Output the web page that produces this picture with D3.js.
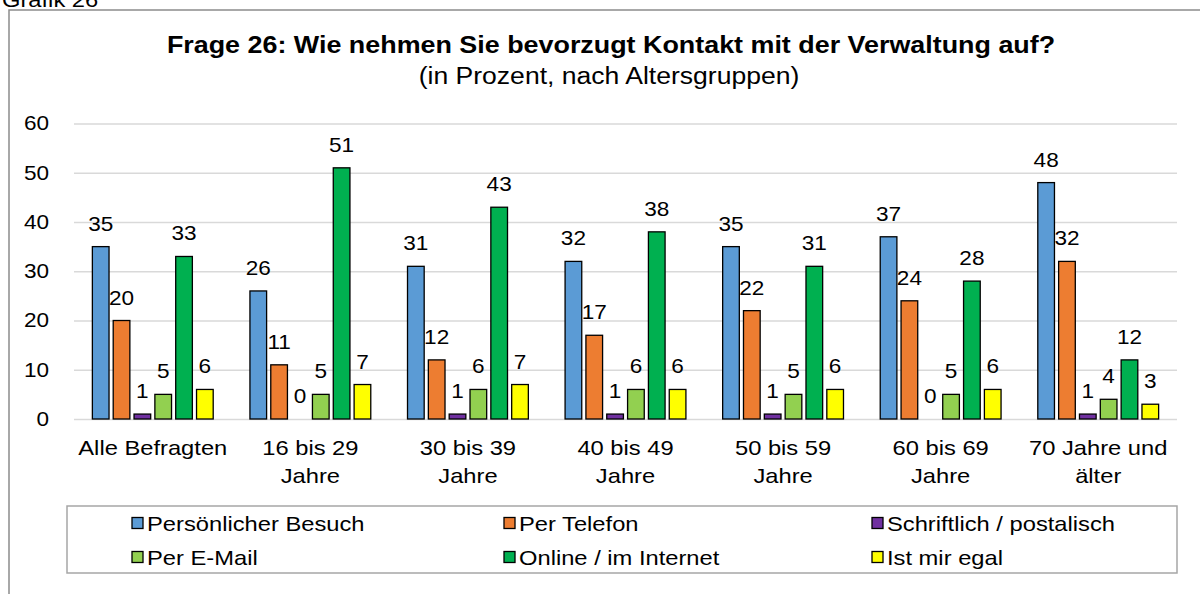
<!DOCTYPE html>
<html>
<head>
<meta charset="utf-8">
<script src="https://cdn.jsdelivr.net/npm/d3@7"></script>
<style>
  body { margin: 0; background: #fff; }
  svg { display: block; font-family: "Liberation Sans", Arial, sans-serif; }
</style>
</head>
<body>
<svg id="chart" width="1200" height="594"></svg>
<script>
// data
var categories = ["Alle Befragten", "16 bis 29\nJahre", "30 bis 39\nJahre", "40 bis 49\nJahre",
                  "50 bis 59\nJahre", "60 bis 69\nJahre", "70 Jahre und\nälter"];
var seriesNames = ["Persönlicher Besuch", "Per Telefon", "Schriftlich / postalisch",
                   "Per E-Mail", "Online / im Internet", "Ist mir egal"];
var besuch    = [35, 26, 31, 32, 35, 37, 48];
var telefon   = [20, 11, 12, 17, 22, 24, 32];
var schrift   = [1, 0, 1, 1, 1, 0, 1];
var email     = [5, 5, 6, 6, 5, 5, 4];
var online    = [33, 51, 43, 38, 31, 28, 12];
var egal      = [6, 7, 7, 6, 6, 6, 3];
var yTicks    = [0, 10, 20, 30, 40, 50, 60];
var colors    = ["#5B9BD5", "#ED7D31", "#7030A0", "#92D050", "#00B050", "#FFFF00"];

var allSeries = [besuch, telefon, schrift, email, online, egal];

var svg = d3.select("#chart");
var SX = 1.13; // text in the original is a bit stretched horizontally

var x0 = d3.scaleBand().domain(categories).range([74, 1177]).padding(0);
var groupW = 125;
var x1 = d3.scaleBand().domain(d3.range(6))
    .range([(x0.bandwidth() - groupW) / 2, (x0.bandwidth() + groupW) / 2])
    .paddingInner(0.2).paddingOuter(0.1);
var y = d3.scaleLinear().domain([0, 60]).range([419, 123.5]);

// outer frame (runs off the page right and bottom)
svg.append("rect")
  .attr("x", 9).attr("y", 10).attr("width", 1300).attr("height", 700)
  .attr("fill", "none").attr("stroke", "#8c8c8c").attr("stroke-width", 1.5);

svg.append("text")
  .attr("transform", "translate(2,7) scale(" + SX + ",1)")
  .attr("font-size", 21).attr("fill", "#000")
  .text("Grafik 26");

// title
svg.append("text")
  .attr("transform", "translate(611,53) scale(" + SX + ",1)")
  .attr("text-anchor", "middle").attr("font-size", 23.8).attr("font-weight", "bold")
  .text("Frage 26: Wie nehmen Sie bevorzugt Kontakt mit der Verwaltung auf?");
svg.append("text")
  .attr("transform", "translate(609,84) scale(" + SX + ",1)")
  .attr("text-anchor", "middle").attr("font-size", 23.5)
  .text("(in Prozent, nach Altersgruppen)");

// y axis + gridlines
var yAxis = svg.append("g")
  .attr("transform", "translate(74,0)")
  .call(d3.axisLeft(y).tickValues(yTicks).tickSize(-(1177 - 74)).tickPadding(22));
yAxis.select(".domain").remove();
yAxis.selectAll("line").attr("stroke", "#d9d9d9").attr("stroke-width", 1.5);
yAxis.selectAll("text")
  .attr("font-size", 20).attr("fill", "#000")
  .attr("font-family", "Liberation Sans, Arial, sans-serif")
  .attr("transform", "scale(" + SX + ",1)");

// bars
var groups = svg.append("g").selectAll("g")
  .data(categories)
  .enter().append("g")
  .attr("transform", function(d) { return "translate(" + x0(d) + ",0)"; });

groups.each(function(cat, ci) {
  var g = d3.select(this);
  var vals = allSeries.map(function(s, si) { return {si: si, v: s[ci]}; });
  g.selectAll("rect")
    .data(vals.filter(function(d) { return d.v > 0; }))
    .enter().append("rect")
    .attr("x", function(d) { return x1(d.si); })
    .attr("width", x1.bandwidth())
    .attr("y", function(d) { return y(d.v); })
    .attr("height", function(d) { return y(0) - y(d.v); })
    .attr("fill", function(d) { return colors[d.si]; })
    .attr("stroke", "#000").attr("stroke-width", 1.3);
  g.selectAll("text")
    .data(vals)
    .enter().append("text")
    .attr("transform", function(d) {
      return "translate(" + (x1(d.si) + x1.bandwidth() / 2) + "," + (y(d.v) - 16) + ") scale(" + SX + ",1)";
    })
    .attr("text-anchor", "middle").attr("font-size", 20)
    .text(function(d) { return d.v; });
});

// category labels
svg.append("g").selectAll("text")
  .data(categories)
  .enter().append("text")
  .attr("transform", function(d) { return "translate(" + (x0(d) + x0.bandwidth() / 2) + ",455) scale(" + SX + ",1)"; })
  .attr("text-anchor", "middle").attr("font-size", 21)
  .each(function(d) {
    var t = d3.select(this);
    d.split("\n").forEach(function(line, i) {
      t.append("tspan").attr("x", 0).attr("y", i * 28).text(line);
    });
  });

// legend
svg.append("rect")
  .attr("x", 67).attr("y", 506).attr("width", 1177 - 67).attr("height", 67)
  .attr("fill", "#fff").attr("stroke", "#a6a6a6").attr("stroke-width", 1.5);

var legCols = [132, 504, 872];
var legRows = [523, 557];
var leg = svg.append("g").selectAll("g")
  .data(seriesNames)
  .enter().append("g")
  .attr("transform", function(d, i) {
    return "translate(" + legCols[i % 3] + "," + legRows[Math.floor(i / 3)] + ")";
  });
leg.append("rect")
  .attr("x", 0).attr("y", -5.5).attr("width", 11).attr("height", 11)
  .attr("fill", function(d, i) { return colors[i]; })
  .attr("stroke", "#000").attr("stroke-width", 1.3);
leg.append("text")
  .attr("transform", "translate(15,7.5) scale(" + SX + ",1)")
  .attr("font-size", 21)
  .text(function(d) { return d; });
</script>
</body>
</html>
